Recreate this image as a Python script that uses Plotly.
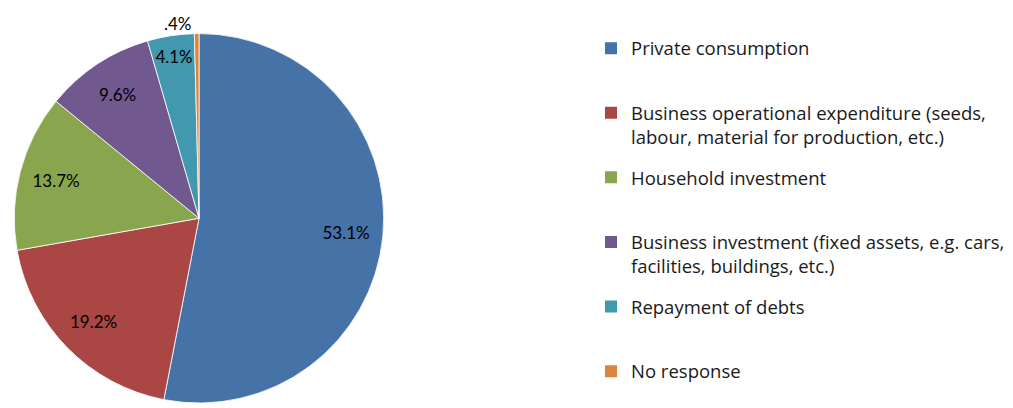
import plotly.graph_objects as go

# Spending categories and their shares (%)
categories = [
    "Private consumption",
    "Business operational expenditure (seeds,<br>labour, material for production, etc.)",
    "Household investment",
    "Business investment (fixed assets, e.g. cars,<br>facilities, buildings, etc.)",
    "Repayment of debts",
    "No response",
]
shares = [53.1, 19.2, 13.7, 9.6, 4.1, 0.4]
colors = ["#4572A7", "#AA4643", "#89A54E", "#71588F", "#4198AF", "#DB843D"]

# Slice labels such as "53.1%" and ".4%"
slice_text = [f"{v:.1f}%".lstrip("0") for v in shares]
positions = ["inside" if v >= 1 else "outside" for v in shares]

LABEL_FONT = "Lato, Carlito, Calibri, sans-serif"
LEGEND_FONT = "Open Sans, Carlito, Calibri, sans-serif"
W, H = 1013, 408
pie_domain = dict(x=[12 / W, 386 / W], y=[0, 374 / H])
plain_names = [c.replace("<br>", " ") for c in categories]

fig = go.Figure()

# Coloured slices
fig.add_trace(go.Pie(
    labels=plain_names,
    values=shares,
    textinfo="none",
    marker=dict(colors=colors, line=dict(color="rgba(255,255,255,0.8)", width=1)),
    sort=False,
    direction="clockwise",
    rotation=0,
    showlegend=False,
    domain=pie_domain,
    hoverinfo="label+percent",
))

# Transparent ring on top that carries the percentage labels,
# which keeps them near the outer part of each slice
fig.add_trace(go.Pie(
    labels=plain_names,
    values=shares,
    hole=0.6,
    text=slice_text,
    texttemplate="%{text}",
    textposition=positions,
    insidetextorientation="horizontal",
    textfont=dict(family=LABEL_FONT, size=17, color="#000000"),
    marker=dict(colors=["rgba(0,0,0,0)"] * len(shares), line=dict(width=0)),
    sort=False,
    direction="clockwise",
    rotation=0,
    showlegend=False,
    domain=pie_domain,
    hoverinfo="skip",
))

# Legend entries, one group each so they are evenly spaced;
# single-line names get a blank second line (except the last one)
last = len(categories) - 1
for i, (name, col) in enumerate(zip(categories, colors)):
    label = name if ("<br>" in name or i == last) else name + "<br>&nbsp;"
    fig.add_trace(go.Scatter(
        x=[None], y=[None], mode="markers",
        marker=dict(symbol="square", size=12, color=col, line=dict(width=0)),
        name=label, legendgroup=f"g{i}", showlegend=True,
        hoverinfo="skip",
    ))

fig.update_layout(
    width=W, height=H,
    margin=dict(l=0, r=0, t=0, b=0),
    paper_bgcolor="white", plot_bgcolor="white",
    xaxis=dict(visible=False), yaxis=dict(visible=False),
    legend=dict(
        x=591 / W, xanchor="left", y=1 - 30 / H, yanchor="top",
        font=dict(family=LEGEND_FONT, size=18.5, color="#1a1a1a"),
        valign="top", tracegroupgap=13.5,
        bgcolor="rgba(0,0,0,0)", borderwidth=0,
        itemclick=False, itemdoubleclick=False,
    ),
    showlegend=True,
)

fig.write_html("out.html")
